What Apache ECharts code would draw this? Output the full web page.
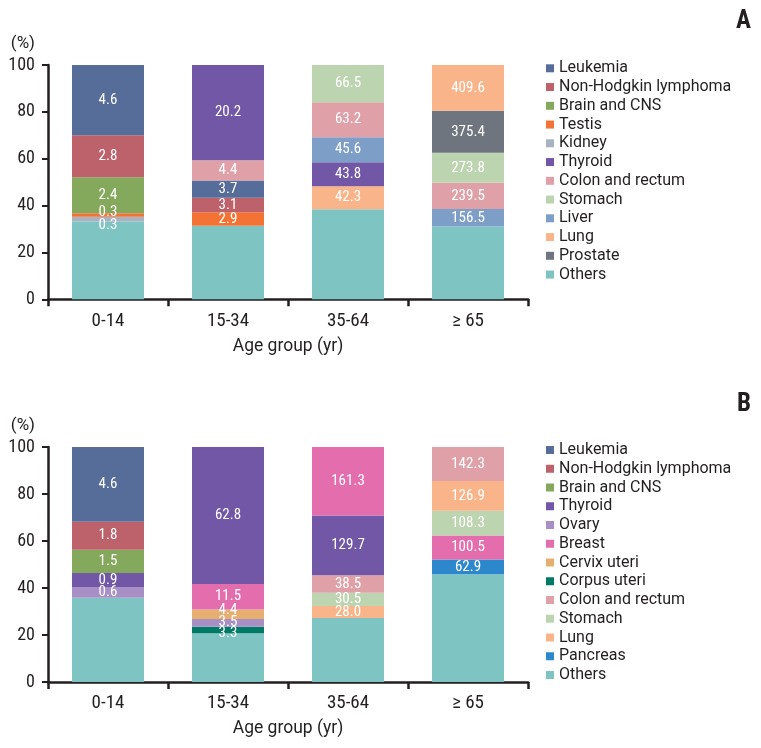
<!DOCTYPE html>
<html><head><meta charset="utf-8">
<script src="https://cdn.jsdelivr.net/npm/echarts@6/dist/echarts.min.js"></script>
<style>html,body{margin:0;padding:0;background:#fff}#chart{width:761px;height:748px}</style>
</head><body><div id="chart"></div>
<script>
// ---------- data ----------
const ageGroups = ['0-14', '15-34', '35-64', '\u2265 65'];

// Panel A (male): site order = legend order
const maleSites = ['Leukemia', 'Non-Hodgkin lymphoma', 'Brain and CNS', 'Testis', 'Kidney', 'Thyroid',
  'Colon and rectum', 'Stomach', 'Liver', 'Lung', 'Prostate', 'Others'];
// share of all cancers (%) per age group, one row per site
const maleShare = [
  [30.0, 7.4, null, null],
  [17.9, 6.2, null, null],
  [15.4, null, null, null],
  [1.5, 5.7, null, null],
  [2.0, null, null, null],
  [null, 40.6, 10.2, null],
  [null, 8.7, 14.9, 11.2],
  [null, null, 15.9, 12.8],
  [null, null, 10.7, 7.4],
  [null, null, 9.9, 19.5],
  [null, null, null, 18.0],
  [33.2, 31.4, 38.4, 31.1]
];
// incidence rate labels
const maleRate = [
  [4.6, 3.7, null, null],
  [2.8, 3.1, null, null],
  [2.4, null, null, null],
  [0.3, 2.9, null, null],
  [0.3, null, null, null],
  [null, 20.2, 43.8, null],
  [null, 4.4, 63.2, 239.5],
  [null, null, 66.5, 273.8],
  [null, null, 45.6, 156.5],
  [null, null, 42.3, 409.6],
  [null, null, null, 375.4],
  [null, null, null, null]
];

// Panel B (female)
const femaleSites = ['Leukemia', 'Non-Hodgkin lymphoma', 'Brain and CNS', 'Thyroid', 'Ovary', 'Breast',
  'Cervix uteri', 'Corpus uteri', 'Colon and rectum', 'Stomach', 'Lung', 'Pancreas', 'Others'];
const femaleShare = [
  [31.8, null, null, null],
  [11.9, null, null, null],
  [9.9, null, null, null],
  [6.0, 58.3, 25.4, null],
  [4.5, 3.3, null, null],
  [null, 10.8, 29.2, 10.2],
  [null, 4.1, null, null],
  [null, 2.8, null, null],
  [null, null, 7.4, 14.5],
  [null, null, 5.7, 10.6],
  [null, null, 5.1, 12.6],
  [null, null, null, 6.3],
  [35.9, 20.7, 27.2, 45.8]
];
const femaleRate = [
  [4.6, null, null, null],
  [1.8, null, null, null],
  [1.5, null, null, null],
  [0.9, 62.8, 129.7, null],
  [0.6, 3.5, null, null],
  [null, 11.5, 161.3, 100.5],
  [null, 4.4, null, null],
  [null, 3.3, null, null],
  [null, null, 38.5, 142.3],
  [null, null, 30.5, 108.3],
  [null, null, 28.0, 126.9],
  [null, null, null, 62.9],
  [null, null, null, null]
];

// ---------- styles ----------
const siteColors = {
  'Leukemia': '#566d99',
  'Non-Hodgkin lymphoma': '#bd616b',
  'Brain and CNS': '#84a95c',
  'Testis': '#f37335',
  'Kidney': '#a8b3c1',
  'Thyroid': '#7157a6',
  'Colon and rectum': '#dfa1a7',
  'Stomach': '#bdd4b1',
  'Liver': '#7d9fc7',
  'Lung': '#fab48a',
  'Prostate': '#6e757f',
  'Ovary': '#a890c6',
  'Breast': '#e46ead',
  'Cervix uteri': '#e6ae6f',
  'Corpus uteri': '#007a66',
  'Pancreas': '#2d87cd',
  'Others': '#7dc4c2'
};
const labelOffsets = {
  'A|0-14|Testis': [0, -3],
  'A|0-14|Kidney': [0, 6],
  'B|15-34|Cervix uteri': [0, -4],
  'B|15-34|Ovary': [0, -1],
  'B|15-34|Corpus uteri': [0, 3]
};
const narrow = "'Roboto Condensed', 'Liberation Sans', Arial, sans-serif";
const regular = "Roboto, 'Liberation Sans', Arial, sans-serif";
const ink = '#231f20';

function buildPanel(key, sites, share, rate, idx) {
  const oi = sites.indexOf('Others');
  const perCat = ageGroups.map((g, ci) => {
    const items = [];
    sites.forEach((s, si) => {
      if (si !== oi && share[si][ci] != null) items.push({ site: s, si, share: share[si][ci], rate: rate[si][ci] });
    });
    items.sort((a, b) => (b.rate - a.rate) || (a.si - b.si));
    items.reverse();
    return [{ site: 'Others', si: oi, share: share[oi][ci], rate: null }].concat(items);
  });
  const nRank = Math.max(...perCat.map(c => c.length));
  const series = [];
  for (let r = 0; r < nRank; r++) {
    series.push({
      type: 'bar', name: key + '-rank' + r, stack: key,
      xAxisIndex: idx, yAxisIndex: idx, barWidth: '60%',
      silent: true, emphasis: { disabled: true },
      label: { show: true, position: 'inside', color: '#fff', fontSize: 15, fontFamily: narrow },
      data: perCat.map((c, ci) => {
        const it = c[r];
        if (!it) return '-';
        const hasLabel = it.rate != null;
        return {
          value: it.share,
          itemStyle: { color: siteColors[it.site] },
          label: {
            show: hasLabel,
            formatter: hasLabel ? it.rate.toFixed(1) : '',
            offset: labelOffsets[key + '|' + ageGroups[ci] + '|' + it.site] || [0, 0]
          }
        };
      })
    });
  }
  return series;
}

const allSites = Object.keys(siteColors);
const legendSeries = allSites.map(s => ({
  type: 'line', name: s, data: [], xAxisIndex: 0, yAxisIndex: 0,
  color: siteColors[s], itemStyle: { color: siteColors[s] }, lineStyle: { color: siteColors[s] }
}));

function yAxisFor(idx) {
  return {
    type: 'value', gridIndex: idx, min: 0, max: 100, interval: 20,
    name: '(%)', nameLocation: 'end', nameGap: 13,
    nameTextStyle: { fontFamily: regular, fontSize: 17, color: ink, align: 'right', padding: [0, 13, 0, 0] },
    axisLine: { show: true, lineStyle: { color: ink, width: 2.5 } },
    axisTick: { show: true, length: 6, lineStyle: { color: ink, width: 2 } },
    axisLabel: { margin: 13, fontFamily: narrow, fontSize: 18, color: ink },
    splitLine: { show: false }
  };
}
function xAxisFor(idx) {
  return {
    type: 'category', gridIndex: idx, data: ageGroups,
    axisLine: { show: true, lineStyle: { color: ink, width: 2.5 } },
    axisTick: { show: true, length: 7, lineStyle: { color: ink, width: 2.5 } },
    axisLabel: { margin: 12, fontFamily: narrow, fontSize: 19, color: ink },
    name: 'Age group (yr)', nameLocation: 'middle', nameGap: 38,
    nameTextStyle: { fontFamily: regular, fontSize: 17.5, color: ink }
  };
}
function legendFor(sites, top) {
  return {
    data: sites, orient: 'vertical', left: 546, top: top,
    icon: 'rect', itemWidth: 8, itemHeight: 8, itemGap: 2.75, selectedMode: false, padding: 0,
    textStyle: { fontFamily: regular, fontSize: 16, lineHeight: 16, color: ink }
  };
}

const option = {
  animation: false,
  backgroundColor: '#fff',
  title: [
    { text: 'A', right: 10, top: 9, padding: 0, textStyle: { fontFamily: narrow, fontWeight: 'bold', fontSize: 25, color: ink } },
    { text: 'B', right: 10, top: 392, padding: 0, textStyle: { fontFamily: narrow, fontWeight: 'bold', fontSize: 25, color: ink } }
  ],
  grid: [
    { left: 48, right: 233, top: 65, bottom: 448.7 },
    { left: 48, right: 233, top: 447, bottom: 66 }
  ],
  legend: [legendFor(maleSites, 60.3), legendFor(femaleSites, 442)],
  xAxis: [xAxisFor(0), xAxisFor(1)],
  yAxis: [yAxisFor(0), yAxisFor(1)],
  series: buildPanel('A', maleSites, maleShare, maleRate, 0)
    .concat(buildPanel('B', femaleSites, femaleShare, femaleRate, 1))
    .concat(legendSeries)
};

const chart = echarts.init(document.getElementById('chart'), null, { renderer: 'canvas' });
chart.setOption(option);
</script>
</body></html>
